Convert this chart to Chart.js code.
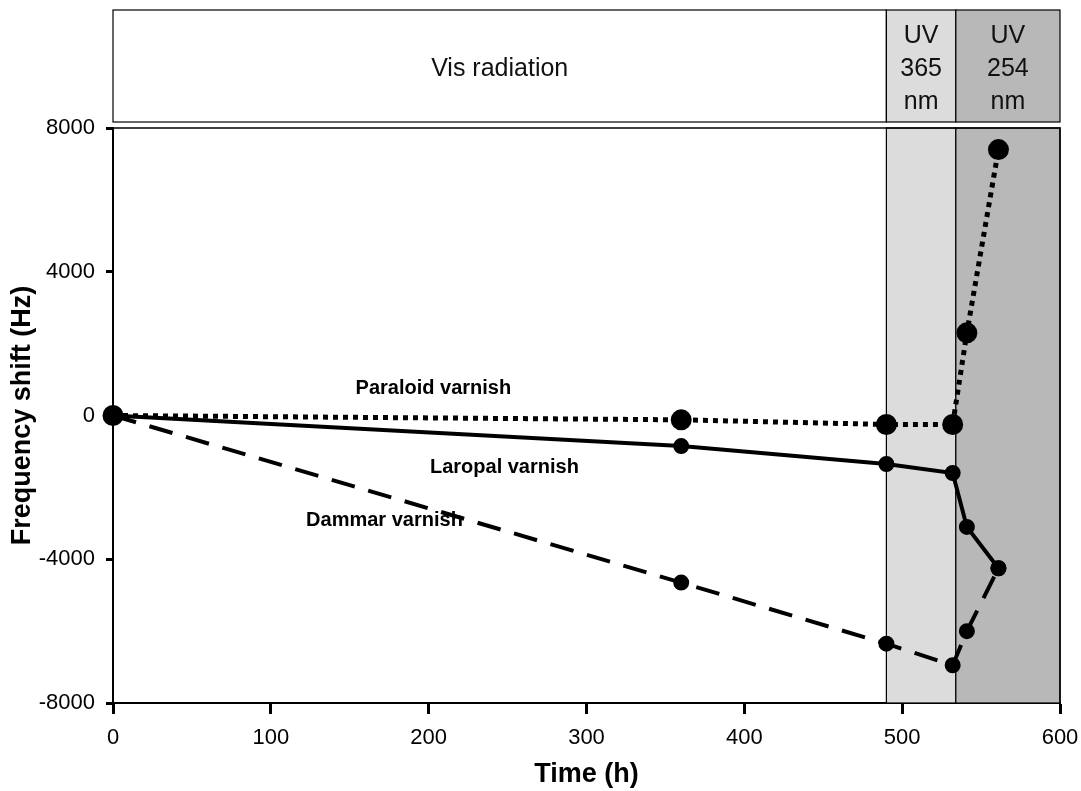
<!DOCTYPE html>
<html>
<head>
<meta charset="utf-8">
<script src="https://cdn.jsdelivr.net/npm/chart.js@4/dist/chart.umd.min.js"></script>
<style>
  body { margin: 0; background: #fff; }
  canvas { display: block; }
</style>
</head>
<body>
<canvas id="chart" width="1081" height="791"></canvas>
<script>
// data
const times = [0, 360, 490, 532, 541, 561];
const paraloid = [0, -120, -250, -250, 2300, 7400];
const laropal = [0, -850, -1350, -1600, -3100, -4250];
const dammar = [0, -4650, -6350, -6950, -6000, -4250];
const yTicks = [-8000, -4000, 0, 4000, 8000];

// irradiation phases (h)
const phases = [
    {from: 0, to: 490, lines: ['Vis radiation'], fill: '#ffffff'},
    {from: 490, to: 534, lines: ['UV', '365', 'nm'], fill: '#dcdcdc'},
    {from: 534, to: 600, lines: ['UV', '254', 'nm'], fill: '#b8b8b8'}
];

const seriesLabels = [
    {text: 'Paraloid varnish', x: 203, y: 740},
    {text: 'Laropal varnish', x: 248, y: -1435},
    {text: 'Dammar varnish', x: 172, y: -2910}
];

const FONT = '"Liberation Sans", Arial, sans-serif';

function pts(ys){
    return times.map((t, i) => ({x: t, y: ys[i]}));
}

const phasePlugin = {
    id: 'phases',
    beforeDatasetsDraw(chart){
        const {ctx, chartArea: a, scales: {x}} = chart;
        ctx.save();
        phases.forEach(p => {
            if (p.fill === '#ffffff') return;
            const x0 = x.getPixelForValue(p.from), x1 = x.getPixelForValue(p.to);
            ctx.fillStyle = p.fill;
            ctx.fillRect(x0, a.top, x1 - x0, a.bottom - a.top);
            ctx.strokeStyle = '#000';
            ctx.lineWidth = 1.2;
            ctx.strokeRect(x0, a.top, x1 - x0, a.bottom - a.top);
        });
        ctx.restore();
    },
    afterDraw(chart){
        const {ctx, chartArea: a, scales: {x, y}} = chart;
        ctx.save();
        // frame top/right
        ctx.strokeStyle = '#000';
        ctx.lineWidth = 1.5;
        ctx.beginPath();
        ctx.moveTo(a.left, a.top);
        ctx.lineTo(a.right, a.top);
        ctx.lineTo(a.right, a.bottom);
        ctx.stroke();

        // top panel
        const top = 10, bottom = 122;
        phases.forEach(p => {
            const x0 = x.getPixelForValue(p.from), x1 = x.getPixelForValue(p.to);
            ctx.fillStyle = p.fill;
            ctx.fillRect(x0, top, x1 - x0, bottom - top);
            ctx.strokeStyle = '#000';
            ctx.lineWidth = 1.2;
            ctx.strokeRect(x0, top, x1 - x0, bottom - top);
            ctx.fillStyle = '#111';
            ctx.font = '25px ' + FONT;
            ctx.textAlign = 'center';
            ctx.textBaseline = 'middle';
            const cx = (x0 + x1) / 2;
            if (p.lines.length === 1) {
                ctx.fillText(p.lines[0], cx, 69);
            } else {
                p.lines.forEach((l, i) => ctx.fillText(l, cx, 36 + i * 33));
            }
        });

        // series labels
        ctx.fillStyle = '#000';
        ctx.font = 'bold 20px ' + FONT;
        ctx.textAlign = 'center';
        ctx.textBaseline = 'middle';
        seriesLabels.forEach(l => {
            ctx.fillText(l.text, x.getPixelForValue(l.x), y.getPixelForValue(l.y));
        });
        ctx.restore();
    }
};

new Chart(document.getElementById('chart'), {
    type: 'line',
    data: {
        datasets: [
            {
                label: 'Paraloid varnish',
                data: pts(paraloid),
                borderColor: '#000',
                backgroundColor: '#000',
                borderWidth: 5,
                borderDash: [5, 5],
                pointRadius: 8,
                tension: 0
            },
            {
                label: 'Laropal varnish',
                data: pts(laropal),
                borderColor: '#000',
                backgroundColor: '#000',
                borderWidth: 4,
                pointRadius: 6,
                tension: 0
            },
            {
                label: 'Dammar varnish',
                data: pts(dammar),
                borderColor: '#000',
                backgroundColor: '#000',
                borderWidth: 4,
                borderDash: [24, 14],
                pointRadius: 6,
                tension: 0
            }
        ]
    },
    options: {
        responsive: false,
        animation: false,
        clip: false,
        layout: {padding: {top: 128, right: 21, left: 0, bottom: 0}},
        plugins: {legend: {display: false}, tooltip: {enabled: false}},
        scales: {
            x: {
                type: 'linear',
                min: 0,
                max: 600,
                afterFit: s => { s.height = 88; s.paddingLeft = 0; s.paddingRight = 0; },
                ticks: {
                    stepSize: 100,
                    color: '#000',
                    padding: 11,
                    font: {family: FONT, size: 22}
                },
                grid: {drawOnChartArea: false, tickLength: 11, tickWidth: 3, tickColor: '#000'},
                border: {display: true, color: '#000', width: 2},
                title: {
                    display: true,
                    text: 'Time (h)',
                    color: '#000',
                    font: {family: FONT, size: 27, weight: 'bold'},
                    padding: {top: 2, bottom: 0}
                }
            },
            y: {
                min: -8000,
                max: 8000,
                afterFit: s => { s.width = 113; s.paddingTop = 0; s.paddingBottom = 0; },
                afterBuildTicks: s => { s.ticks = yTicks.map(v => ({value: v})); },
                ticks: {
                    color: '#000',
                    padding: 11,
                    font: {family: FONT, size: 22},
                    callback: v => String(v)
                },
                grid: {drawOnChartArea: false, tickLength: 7, tickWidth: 3, tickColor: '#000'},
                border: {display: true, color: '#000', width: 2},
                title: {
                    display: true,
                    text: 'Frequency shift (Hz)',
                    color: '#000',
                    font: {family: FONT, size: 27, weight: 'bold'},
                    padding: {top: 6, bottom: 2}
                }
            }
        }
    },
    plugins: [phasePlugin]
});
</script>
</body>
</html>
